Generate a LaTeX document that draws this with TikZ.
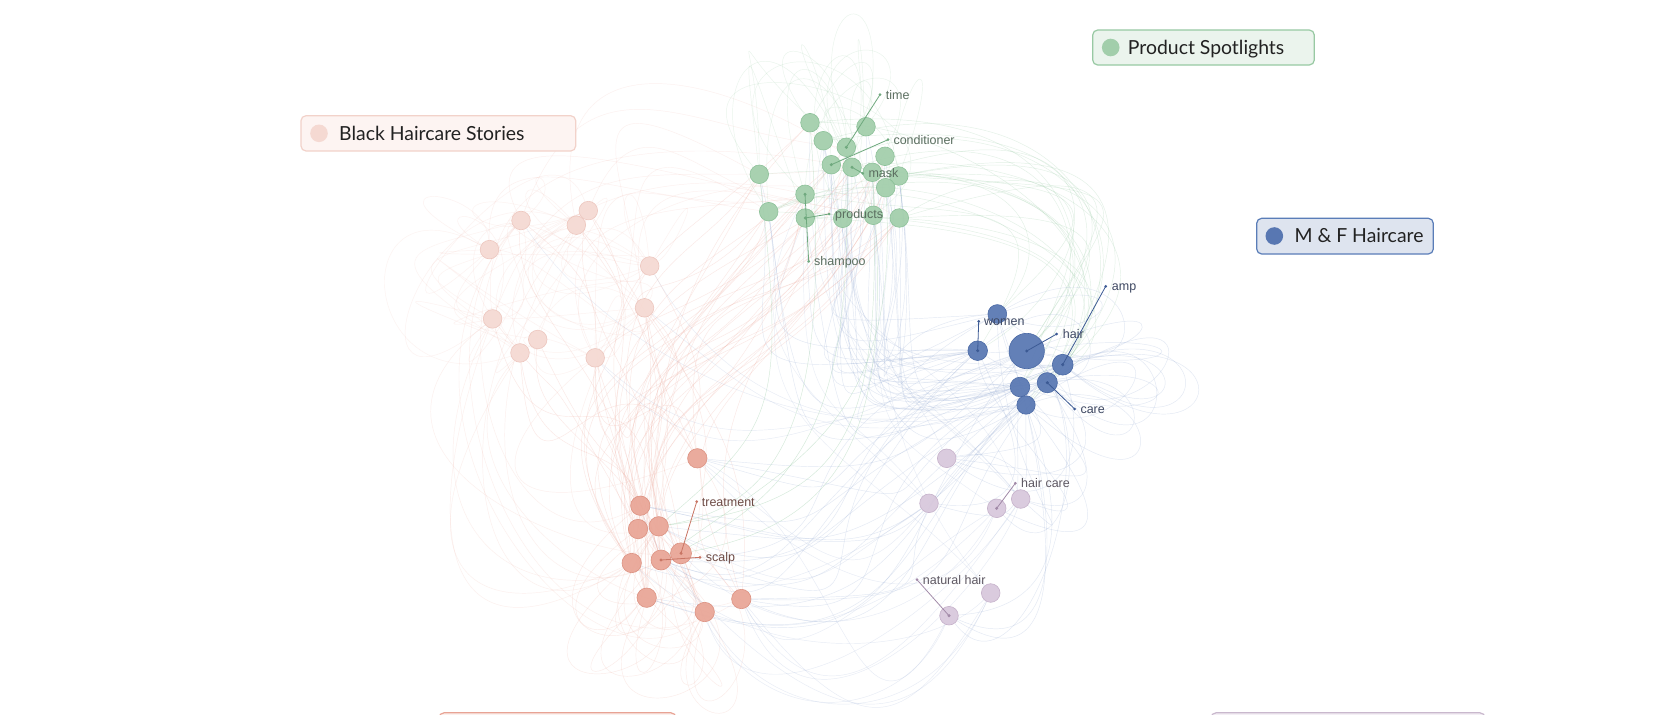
\documentclass[tikz,border=0pt]{standalone}
\usepackage{fontspec}
\setmainfont{Liberation Sans}
\newfontfamily\legfont{Lato}
\pgfdeclarelayer{back}
\pgfdeclarelayer{bg}
\pgfsetlayers{back,bg,main}
\definecolor{gfill}{HTML}{A2CEAB}
\definecolor{gline}{HTML}{8DC199}
\definecolor{gdark}{HTML}{6FA97E}
\definecolor{gtext}{HTML}{5B6E60}
\definecolor{bfill}{HTML}{5877B2}
\definecolor{bline}{HTML}{4A69A5}
\definecolor{bdark}{HTML}{3C5A94}
\definecolor{btext}{HTML}{3E4862}
\definecolor{rfill}{HTML}{E9A596}
\definecolor{rline}{HTML}{DC9282}
\definecolor{rdark}{HTML}{C97564}
\definecolor{rtext}{HTML}{6E4C46}
\definecolor{pfill}{HTML}{F5D9D2}
\definecolor{pline}{HTML}{EDC7BF}
\definecolor{vfill}{HTML}{D8C8DC}
\definecolor{vline}{HTML}{C6B2CB}
\definecolor{vdark}{HTML}{A28AA8}
\definecolor{vtext}{HTML}{5E5862}
\definecolor{ered}{HTML}{EFA99B}
\definecolor{eblue}{HTML}{8AA2D0}
\definecolor{egreen}{HTML}{93C9A0}
\definecolor{legtext}{HTML}{222222}
\definecolor{lpfill}{HTML}{FDF4F2}
\definecolor{lpline}{HTML}{F2D2CA}
\definecolor{lgfill}{HTML}{EBF4ED}
\definecolor{lgline}{HTML}{98C9A3}
\definecolor{lbfill}{HTML}{DEE4EF}
\definecolor{lbline}{HTML}{5A7DB8}
\definecolor{lrfill}{HTML}{FCF1EE}
\definecolor{lrline}{HTML}{E8A394}
\definecolor{lvfill}{HTML}{F4EFF5}
\definecolor{lvline}{HTML}{C9B8CD}
\tikzset{
  nd/.style={circle, inner sep=0pt, line width=0.6pt, fill opacity=0.93},
  gn/.style={nd, fill=gfill, draw=gline, minimum size=18.6pt},
  bn/.style={nd, fill=bfill, draw=bline, minimum size=#1},
  bn/.default=19pt,
  rn/.style={nd, fill=rfill, draw=rline, minimum size=#1},
  rn/.default=19.4pt,
  pn/.style={nd, fill=pfill, draw=pline, minimum size=18.6pt},
  vn/.style={nd, fill=vfill, draw=vline, minimum size=18.6pt},
  re/.style={draw=ered, line width=0.45pt, opacity=0.26},
  be/.style={draw=eblue, line width=0.45pt, opacity=0.24},
  ge/.style={draw=egreen, line width=0.45pt, opacity=0.26},
  lab/.style={anchor=base west, inner sep=0pt, font=\fontsize{12.5}{14}\selectfont},
  leg/.style={rounded corners=5pt, line width=1.2pt},
  legtxt/.style={anchor=base west, inner sep=0pt, text=legtext, font=\legfont\fontsize{19.4}{22}\selectfont},
}
\begin{document}
\begin{tikzpicture}[x=1pt,y=-1pt]
\useasboundingbox (0,0) rectangle (1666,715);
\begin{pgfonlayer}{back}
\fill[white] (0,0) rectangle (1666,715);
\end{pgfonlayer}
% ---------- nodes ----------
% green
\node[gn] (g1) at (810,122.7) {};
\node[gn] (g2) at (866,126.7) {};
\node[gn] (g3) at (823.3,140.7) {};
\node[gn] (g4) at (846.3,147.3) {};
\node[gn] (g5) at (885,156.3) {};
\node[gn] (g6) at (831.3,164.7) {};
\node[gn] (g7) at (852,167.3) {};
\node[gn] (g8) at (872.3,172.3) {};
\node[gn] (g9) at (898.7,176) {};
\node[gn] (g10) at (885.7,187.7) {};
\node[gn] (g11) at (759.3,174.3) {};
\node[gn] (g12) at (805,194.3) {};
\node[gn] (g13) at (768.7,211.7) {};
\node[gn] (g14) at (805.3,218) {};
\node[gn] (g15) at (842.7,218.3) {};
\node[gn] (g16) at (873.3,215.3) {};
\node[gn] (g17) at (899.3,218) {};
% blue
\node[bn=35.4pt] (b1) at (1026.7,351) {};
\node[bn=18.8pt] (b2) at (997.3,314) {};
\node[bn=19.6pt] (b3) at (977.7,350.7) {};
\node[bn=20.8pt] (b4) at (1062.7,364.7) {};
\node[bn=20.2pt] (b5) at (1047.3,382.7) {};
\node[bn=19.6pt] (b6) at (1020,387) {};
\node[bn=18.4pt] (b7) at (1026,405) {};
% red
\node[rn] (r1) at (697.3,458.3) {};
\node[rn] (r2) at (640.3,505.7) {};
\node[rn] (r3) at (638,529) {};
\node[rn] (r4) at (658.7,526.3) {};
\node[rn=21pt] (r5) at (681,553.3) {};
\node[rn=20pt] (r6) at (661,560) {};
\node[rn] (r7) at (631.7,563) {};
\node[rn] (r8) at (646.7,597.7) {};
\node[rn] (r9) at (704.7,612) {};
\node[rn] (r10) at (741.3,599) {};
% pink
\node[pn] (p1) at (521,220.5) {};
\node[pn] (p2) at (588.3,210.6) {};
\node[pn] (p3) at (576.3,225.2) {};
\node[pn] (p4) at (489.5,249.6) {};
\node[pn] (p5) at (649.7,266) {};
\node[pn] (p6) at (644.5,307.8) {};
\node[pn] (p7) at (492.6,318.9) {};
\node[pn] (p8) at (537.7,339.5) {};
\node[pn] (p9) at (520,352.9) {};
\node[pn] (p10) at (595.2,357.8) {};
% purple
\node[vn] (v1) at (946.7,458.3) {};
\node[vn] (v2) at (1020.7,499) {};
\node[vn] (v3) at (996.7,508.3) {};
\node[vn] (v4) at (929,503.3) {};
\node[vn] (v5) at (990.7,593) {};
\node[vn] (v6) at (949,615.7) {};
% ---------- faint edges ----------
\begin{pgfonlayer}{bg}
\pgfmathsetseed{11}
% red -> green
\foreach \i in {1,...,38}{
  \pgfmathtruncatemacro\ea{random(1,10)}
  \pgfmathtruncatemacro\eb{random(1,17)}
  \draw[re] (r\ea) .. controls +({-80+70*rand},{-220+80*rand}) and +({-100+70*rand},{170+70*rand}) .. (g\eb);
}
% red -> pink
\foreach \i in {1,...,22}{
  \pgfmathtruncatemacro\ea{random(1,10)}
  \pgfmathtruncatemacro\eb{random(1,10)}
  \draw[re] (r\ea) .. controls +({-60+90*rand},{-150+60*rand}) and +({40+90*rand},{150+60*rand}) .. (p\eb);
}
% pink <-> pink
\foreach \i in {1,...,26}{
  \pgfmathtruncatemacro\ea{random(1,10)}
  \pgfmathtruncatemacro\eb{random(1,10)}
  \draw[re, opacity=0.15] (p\ea) .. controls +({-60+140*rand},{150*rand}) and +({-60+140*rand},{150*rand}) .. (p\eb);
}
% pink -> green
\foreach \i in {1,...,14}{
  \pgfmathtruncatemacro\ea{random(1,10)}
  \pgfmathtruncatemacro\eb{random(1,17)}
  \draw[re, opacity=0.17] (p\ea) .. controls +({90*rand},{-150+60*rand}) and +({-150+60*rand},{-40+80*rand}) .. (g\eb);
}
% pink loops out to the left
\foreach \i in {1,...,10}{
  \pgfmathtruncatemacro\ea{random(1,10)}
  \pgfmathtruncatemacro\eb{random(1,10)}
  \draw[re, opacity=0.14] (p\ea) .. controls +({-130+50*rand},{-80+60*rand}) and +({-130+50*rand},{80+60*rand}) .. (p\eb);
}
% red -> pink/left loops downwards
\foreach \i in {1,...,12}{
  \pgfmathtruncatemacro\ea{random(1,10)}
  \pgfmathtruncatemacro\eb{random(1,10)}
  \draw[re, opacity=0.18] (r\ea) .. controls +({-160+60*rand},{60+70*rand}) and +({-130+60*rand},{150+60*rand}) .. (p\eb);
}
% red loops down
\foreach \i in {1,...,16}{
  \pgfmathtruncatemacro\ea{random(1,10)}
  \pgfmathtruncatemacro\eb{random(1,10)}
  \draw[re, opacity=0.22] (r\ea) .. controls +({-110+90*rand},{150+40*rand}) and +({110+90*rand},{150+40*rand}) .. (r\eb);
}
% blue -> green
\foreach \i in {1,...,38}{
  \pgfmathtruncatemacro\ea{random(1,7)}
  \pgfmathtruncatemacro\eb{random(1,17)}
  \draw[be] (b\ea) .. controls +({-220+80*rand},{40+60*rand}) and +({20+40*rand},{230+70*rand}) .. (g\eb);
}
% green -> blue (arcs on the right)
\foreach \i in {1,...,26}{
  \pgfmathtruncatemacro\ea{random(1,17)}
  \pgfmathtruncatemacro\eb{random(1,7)}
  \draw[ge] (g\ea) .. controls +({200+70*rand},{-30+60*rand}) and +({110+50*rand},{-130+60*rand}) .. (b\eb);
}
% green loops above
\foreach \i in {1,...,18}{
  \pgfmathtruncatemacro\ea{random(1,17)}
  \pgfmathtruncatemacro\eb{random(1,17)}
  \draw[ge, opacity=0.2] (g\ea) .. controls +({-30+120*rand},{-150+50*rand}) and +({30+120*rand},{-150+50*rand}) .. (g\eb);
}
% blue -> red
\foreach \i in {1,...,22}{
  \pgfmathtruncatemacro\ea{random(1,7)}
  \pgfmathtruncatemacro\eb{random(1,10)}
  \draw[be] (b\ea) .. controls +({-200+80*rand},{140+60*rand}) and +({220+80*rand},{40+60*rand}) .. (r\eb);
}
% blue -> purple
\foreach \i in {1,...,16}{
  \pgfmathtruncatemacro\ea{random(1,7)}
  \pgfmathtruncatemacro\eb{random(1,6)}
  \draw[be] (b\ea) .. controls +({60+80*rand},{120+60*rand}) and +({110+50*rand},{40+60*rand}) .. (v\eb);
}
% purple -> red
\foreach \i in {1,...,16}{
  \pgfmathtruncatemacro\ea{random(1,6)}
  \pgfmathtruncatemacro\eb{random(1,10)}
  \draw[be, opacity=0.2] (v\ea) .. controls +({-80+60*rand},{130+60*rand}) and +({100+60*rand},{130+60*rand}) .. (r\eb);
}
% purple -> green
\foreach \i in {1,...,10}{
  \pgfmathtruncatemacro\ea{random(1,6)}
  \pgfmathtruncatemacro\eb{random(1,17)}
  \draw[be, opacity=0.18] (v\ea) .. controls +({-120+60*rand},{-150+60*rand}) and +({-40+60*rand},{200+60*rand}) .. (g\eb);
}
% blue self loops to the right
\foreach \i in {1,...,14}{
  \pgfmathtruncatemacro\ea{random(1,7)}
  \draw[be] (b\ea) .. controls +({150+50*rand},{-80+60*rand}) and +({150+50*rand},{80+60*rand}) .. (b\ea);
}
% red -> green (green tinted)
\foreach \i in {1,...,6}{
  \pgfmathtruncatemacro\ea{random(4,6)}
  \pgfmathtruncatemacro\eb{random(1,17)}
  \draw[ge, opacity=0.4] (r\ea) .. controls +({140+60*rand},{-60+40*rand}) and +({30*rand},{260+40*rand}) .. (g\eb);
}
% blue -> pink
\foreach \i in {1,...,5}{
  \pgfmathtruncatemacro\ea{random(1,7)}
  \pgfmathtruncatemacro\eb{random(1,10)}
  \draw[be, opacity=0.2] (b\ea) .. controls +({-200+60*rand},{60+40*rand}) and +({100+40*rand},{140+40*rand}) .. (p\eb);
}
\end{pgfonlayer}
% ---------- labels ----------
\coordinate (dtime) at (880,94.7);
\coordinate (dcond) at (888,139.7);
\coordinate (dmask) at (862.7,173.3);
\coordinate (dprod) at (829,214);
\coordinate (dsham) at (808.7,261.3);
\coordinate (dwomen) at (978.7,321.3);
\coordinate (dhair) at (1056.7,334);
\coordinate (damp) at (1105.7,286.3);
\coordinate (dcare) at (1074.7,409);
\coordinate (dtreat) at (696.7,501.7);
\coordinate (dscalp) at (700,557.3);
\coordinate (dhcare) at (1015.3,483.3);
\coordinate (dnat) at (917,579.7);
\foreach \n/\d in {g4/dtime, g6/dcond, g7/dmask, g14/dprod, g12/dsham}{
  \draw[gdark, line width=0.8pt] (\n.center) -- (\d);
  \fill[gdark] (\n.center) circle (1.7);
  \fill[gdark] (\d) circle (1.5);
}
\foreach \n/\d in {b3/dwomen, b1/dhair, b4/damp, b5/dcare}{
  \draw[bdark, line width=0.8pt] (\n.center) -- (\d);
  \fill[bdark] (\n.center) circle (1.7);
  \fill[bdark] (\d) circle (1.5);
}
\foreach \n/\d in {r5/dtreat, r6/dscalp}{
  \draw[rdark, line width=0.8pt] (\n.center) -- (\d);
  \fill[rdark] (\n.center) circle (1.7);
  \fill[rdark] (\d) circle (1.5);
}
\foreach \n/\d in {v3/dhcare, v6/dnat}{
  \draw[vdark, line width=0.8pt] (\n.center) -- (\d);
  \fill[vdark] (\n.center) circle (1.7);
  \fill[vdark] (\d) circle (1.5);
}
\node[lab, text=gtext] (ltime) at (885.7,99.2) {time};
\node[lab, text=gtext] (lcond) at (893.3,144.2) {conditioner};
\node[lab, text=gtext] (lmask) at (868.3,177.8) {mask};
\node[lab, text=gtext] (lprod) at (835,218.5) {products};
\node[lab, text=gtext] (lsham) at (814,265.8) {shampoo};
\node[lab, text=btext] (lwomen) at (984,325.8) {women};
\node[lab, text=btext] (lhair) at (1062.7,338.5) {hair};
\node[lab, text=btext] (lamp) at (1111.7,290.8) {amp};
\node[lab, text=btext] (lcare) at (1080.3,413.5) {care};
\node[lab, text=rtext] (ltreat) at (701.7,506.2) {treatment};
\node[lab, text=rtext] (lscalp) at (705.7,561.8) {scalp};
\node[lab, text=vtext] (lhcare) at (1021,487.8) {hair care};
\node[lab, text=vtext] (lnat) at (922.7,584.2) {natural hair};
% ---------- legends ----------
\draw[leg, fill=lpfill, draw=lpline] (301,115.7) rectangle (575.7,151);
\fill[pfill] (319,133.3) circle (8.8);
\node[legtxt] (legblack) at (339,140) {Black Haircare Stories};
\draw[leg, fill=lgfill, draw=lgline] (1092.7,30) rectangle (1314.3,65);
\fill[gfill] (1110.7,47.5) circle (8.8);
\node[legtxt] (legprod) at (1127.7,54.2) {Product Spotlights};
\draw[leg, fill=lbfill, draw=lbline] (1256.7,218.3) rectangle (1433.3,254);
\fill[bfill] (1274.3,236) circle (8.8);
\node[legtxt] (legmf) at (1294.3,242.7) {M \& F Haircare};
\draw[leg, fill=lrfill, draw=lrline] (439,712.8) rectangle (676,760);
\draw[leg, fill=lvfill, draw=lvline] (1211,712.8) rectangle (1485,760);
\end{tikzpicture}
\end{document}
